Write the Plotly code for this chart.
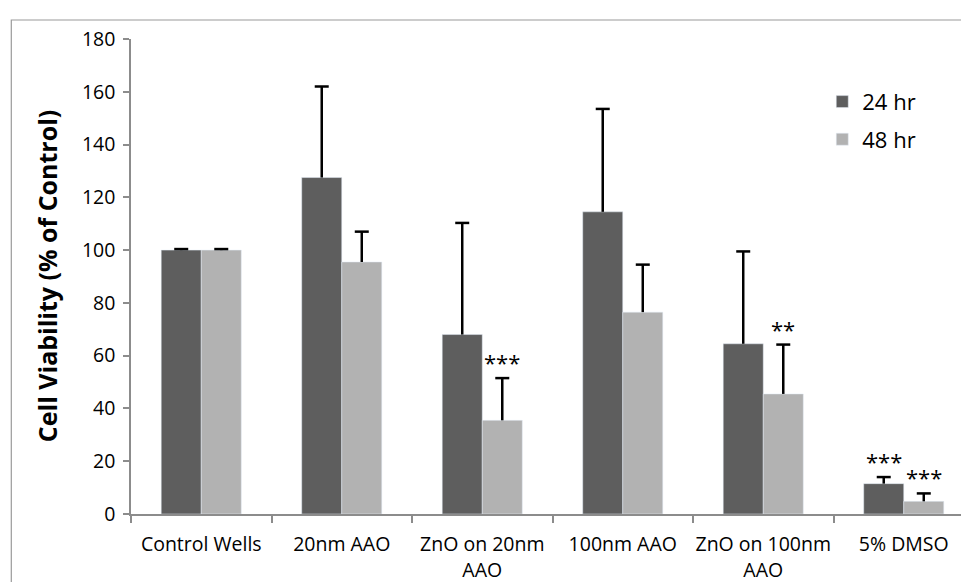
import plotly.graph_objects as go

categories = ["Control Wells", "20nm AAO", "ZnO on 20nm<br>AAO", "100nm AAO",
              "ZnO on 100nm<br>AAO", "5% DMSO"]
viab_24 = [100, 127.5, 68, 114.5, 64.5, 11.5]
err_24 = [0.4, 34.5, 42.3, 39.0, 35.0, 2.5]
viab_48 = [100, 95.5, 35.5, 76.5, 45.5, 4.8]
err_48 = [0.4, 11.5, 16.0, 18.0, 18.7, 3.0]
sig_24 = ["", "", "", "", "", "***"]
sig_48 = ["", "", "***", "", "**", "***"]
y_ticks = [0, 20, 40, 60, 80, 100, 120, 140, 160, 180]

FONT = "Open Sans"
C24 = "#5e5e5e"
C48 = "#b2b2b2"
GAP = 0.43

fig = go.Figure()
for name, vals, errs, col, grp in [("24 hr", viab_24, err_24, C24, "a"),
                                   ("48 hr", viab_48, err_48, C48, "b")]:
    fig.add_trace(go.Bar(
        name=name, x=categories, y=vals, marker_color=col,
        legendgroup=grp, offsetgroup=grp,
        error_y=dict(type="data", array=errs, arrayminus=[0] * len(errs),
                     symmetric=False, color="black", thickness=2.5, width=0),
    ))
for vals, errs, grp in [(viab_24, err_24, "a"), (viab_48, err_48, "b")]:
    fig.add_trace(go.Scatter(
        x=categories, y=[v + e for v, e in zip(vals, errs)],
        mode="markers", offsetgroup=grp, showlegend=False, hoverinfo="skip",
        marker=dict(symbol="line-ew", size=10, color="black",
                    line=dict(color="black", width=2.5)),
    ))

annotations = []
for cat, v, e, s in zip(categories, viab_24, err_24, sig_24):
    if s:
        annotations.append(dict(x=cat, y=v + e, xref="x", yref="y", text=s,
                                showarrow=False, xshift=-20, yanchor="bottom",
                                yshift=-1, font=dict(family=FONT, size=22, color="black")))
for cat, v, e, s in zip(categories, viab_48, err_48, sig_48):
    if s:
        annotations.append(dict(x=cat, y=v + e, xref="x", yref="y", text=s,
                                showarrow=False, xshift=20, yanchor="bottom",
                                yshift=-1, font=dict(family=FONT, size=22, color="black")))

annotations.append(dict(x=-0.1, y=0.5, xref="paper", yref="paper",
                        text="<b>Cell Viability (% of Control)</b>", textangle=-90,
                        showarrow=False, xanchor="center", yanchor="middle",
                        font=dict(family=FONT, size=25, color="black")))

fig.update_layout(
    width=969, height=582,
    margin=dict(l=123, r=3, t=31, b=76, autoexpand=False),
    paper_bgcolor="white", plot_bgcolor="white",
    barmode="group", bargap=GAP, bargroupgap=0,
    scattermode="group", scattergap=GAP,
    font=dict(family=FONT, color="black"),
    showlegend=True,
    legend=dict(x=0.82, y=0.912, xanchor="left", yanchor="top",
                font=dict(family=FONT, size=22, color="black"),
                bgcolor="rgba(0,0,0,0)", tracegroupgap=6),
    annotations=annotations,
    shapes=[dict(type="rect", xref="paper", yref="paper",
                 x0=-0.142, x1=1.01, y0=-0.2, y1=1.04,
                 line=dict(color="#9a9a9a", width=1.2), fillcolor="rgba(0,0,0,0)",
                 layer="below")],
)
fig.update_xaxes(
    showline=True, linecolor="#8c8c8c", linewidth=1.5,
    ticks="outside", tickson="boundaries", ticklen=7, tickcolor="#8c8c8c", tickwidth=1.5,
    tickfont=dict(family=FONT, size=19.5, color="black"), tickangle=0, automargin=False,
    ticklabelstandoff=12, showgrid=False, zeroline=False,
)
fig.update_yaxes(
    range=[0, 180], tickvals=y_ticks, ticktext=[str(t) for t in y_ticks],
    showline=True, linecolor="#8c8c8c", linewidth=1.5,
    ticks="outside", ticklen=6, tickcolor="#8c8c8c", tickwidth=1.5, automargin=False,
    tickfont=dict(family=FONT, size=19.5, color="black"),
    ticklabelstandoff=4, showgrid=False, zeroline=False,
)

fig.write_html("out.html")
